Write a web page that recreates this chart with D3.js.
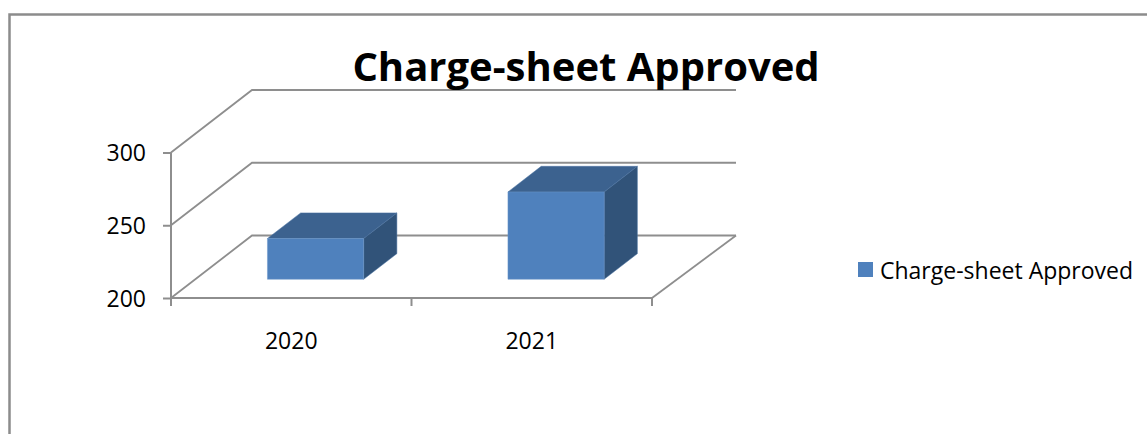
<!DOCTYPE html>
<html>
<head>
<meta charset="utf-8">
<script src="https://cdn.jsdelivr.net/npm/d3@7"></script>
<style>
  html, body { margin: 0; padding: 0; background: #fff; }
  svg { display: block; }
  text { font-family: "Open Sans", sans-serif; fill: #000; }
  .domain { display: none; }
</style>
</head>
<body>
<div id="chart"></div>
<script>
var title = "Charge-sheet Approved";
var categories = ["2020", "2021"];
var approved = [228, 260];
var yTicks = [200, 250, 300];

var width = 1147;
var height = 434;

var plotLeft = 171, plotRight = 652, plotBottom = 298, plotTop = 152.5;
// the floor goes back this far, up and to the right
var depthX = 81, depthY = -62.5;
// back wall runs a little further on the right than the left
var depthXRight = 84;
// bars sit in the middle of the floor depth
var barFront = 0.3, barBack = 0.71;

var gridColor = "#8e8e8e";
var lineWidth = 1.8;

var x_axis = d3.scaleBand().domain(categories).range([plotLeft, plotRight]).paddingInner(0).paddingOuter(0);
var y_axis = d3.scaleLinear().domain([200, 300]).range([plotBottom, plotTop]);

var barWidth = x_axis.bandwidth() * 0.4;

var svg = d3.select("#chart").append("svg")
  .attr("width", width)
  .attr("height", height);

// outer frame, runs off the bottom and right of the picture
svg.append("path")
  .attr("d", "M9.5," + height + "V14.5H" + width)
  .attr("fill", "none")
  .attr("stroke", "#8c8c8c")
  .attr("stroke-width", 2.5);

// back wall lines and side wall lines
var grid = svg.append("g");
yTicks.forEach(function(t) {
  var y = y_axis(t);
  grid.append("path")
    .attr("d", d3.line()([[plotLeft, y], [plotLeft + depthX, y + depthY], [plotRight + depthXRight, y + depthY]]))
    .attr("fill", "none")
    .attr("stroke", gridColor)
    .attr("stroke-width", lineWidth);
});

// right edge of the floor
grid.append("line")
  .attr("x1", plotRight).attr("y1", y_axis(200))
  .attr("x2", plotRight + depthXRight).attr("y2", y_axis(200) + depthY)
  .attr("stroke", gridColor)
  .attr("stroke-width", lineWidth);

// front axes
svg.append("line")
  .attr("x1", plotLeft).attr("x2", plotLeft)
  .attr("y1", y_axis(300)).attr("y2", y_axis(200))
  .attr("stroke", gridColor).attr("stroke-width", 2);
svg.append("line")
  .attr("x1", plotLeft).attr("x2", plotRight)
  .attr("y1", y_axis(200)).attr("y2", y_axis(200))
  .attr("stroke", gridColor).attr("stroke-width", 2);

// x ticks fall on the band edges, not the centres
var edges = categories.map(function(c) { return x_axis(c); }).concat([plotRight]);
svg.selectAll(".x_tick").data(edges).enter().append("line")
  .attr("class", "x_tick")
  .attr("x1", function(d) { return d; }).attr("x2", function(d) { return d; })
  .attr("y1", y_axis(200)).attr("y2", y_axis(200) + 8)
  .attr("stroke", gridColor).attr("stroke-width", 2);

var yAxis = svg.append("g")
  .attr("class", "y_axis")
  .attr("transform", "translate(" + plotLeft + ",0)")
  .call(d3.axisLeft(y_axis).tickValues(yTicks).tickSize(8).tickPadding(17).tickFormat(d3.format("d")));
yAxis.selectAll("line").attr("stroke", gridColor).attr("stroke-width", 2);
yAxis.selectAll("text").attr("font-size", 23).attr("y", 1).style("font-family", '"Open Sans", sans-serif');

var xAxis = svg.append("g")
  .attr("class", "x_axis")
  .attr("transform", "translate(0," + y_axis(200) + ")")
  .call(d3.axisBottom(x_axis).tickSize(0).tickPadding(35));
xAxis.selectAll("text").attr("font-size", 23).style("font-family", '"Open Sans", sans-serif');

// 3d bars: top, side, then front
var bars = svg.selectAll(".bar").data(approved).enter().append("g").attr("class", "bar");

function corners(d, i) {
  var x0 = x_axis(categories[i]) + x_axis.bandwidth() / 2 - barWidth / 2 + depthX * barFront;
  var x1 = x0 + barWidth;
  var shiftY = depthY * barFront;
  var yb = y_axis(200) + shiftY;
  var yt = y_axis(d) + shiftY;
  var dx = depthX * (barBack - barFront);
  var dy = depthY * (barBack - barFront);
  return { x0: x0, x1: x1, yb: yb, yt: yt, dx: dx, dy: dy };
}

bars.append("path")
  .attr("fill", "#3c628f")
  .attr("stroke", "#4a72a3")
  .attr("stroke-width", 0.5)
  .attr("d", function(d, i) {
    var c = corners(d, i);
    return d3.line()([[c.x0, c.yt], [c.x0 + c.dx, c.yt + c.dy], [c.x1 + c.dx, c.yt + c.dy], [c.x1, c.yt]]) + "Z";
  });

bars.append("path")
  .attr("fill", "#315379")
  .attr("stroke", "#4a72a3")
  .attr("stroke-width", 0.5)
  .attr("d", function(d, i) {
    var c = corners(d, i);
    return d3.line()([[c.x1, c.yt], [c.x1 + c.dx, c.yt + c.dy], [c.x1 + c.dx, c.yb + c.dy], [c.x1, c.yb]]) + "Z";
  });

bars.append("path")
  .attr("fill", "#4f81bd")
  .attr("stroke", "#6d97c9")
  .attr("stroke-width", 0.5)
  .attr("d", function(d, i) {
    var c = corners(d, i);
    return d3.line()([[c.x0, c.yt], [c.x1, c.yt], [c.x1, c.yb], [c.x0, c.yb]]) + "Z";
  });

svg.append("text")
  .text(title)
  .attr("x", 586)
  .attr("y", 81)
  .attr("text-anchor", "middle")
  .attr("font-size", 40)
  .attr("font-weight", "bold");

// legend
svg.append("rect")
  .attr("x", 858).attr("y", 262)
  .attr("width", 15).attr("height", 15)
  .attr("fill", "#4f81bd");
svg.append("text")
  .text(title)
  .attr("x", 880)
  .attr("y", 279)
  .attr("font-size", 23);
</script>
</body>
</html>
